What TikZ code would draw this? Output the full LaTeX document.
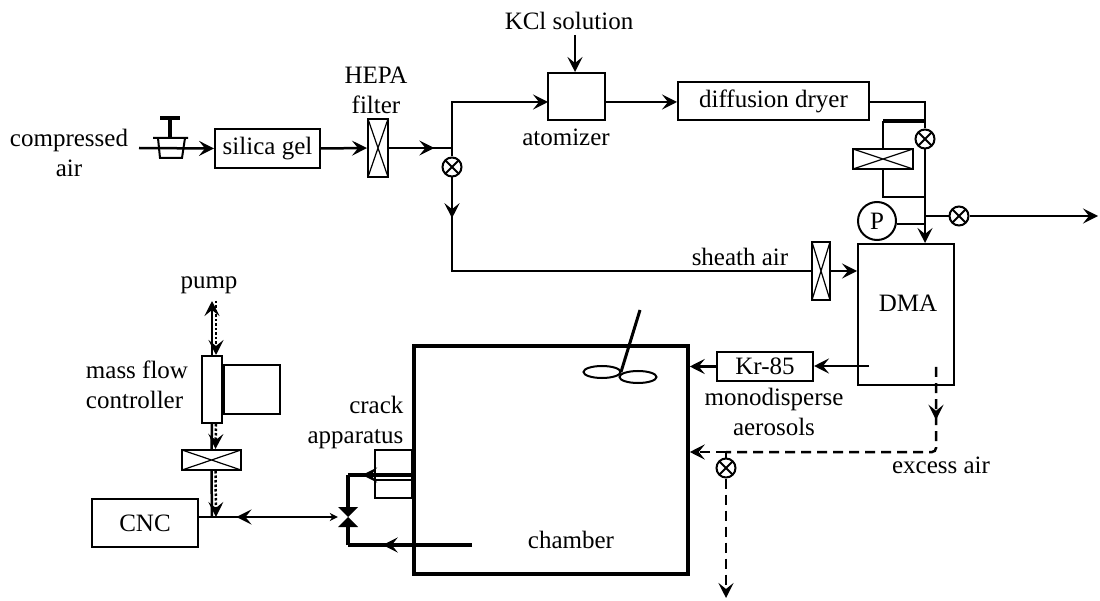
\documentclass[tikz,border=0pt]{standalone}
\usepackage{fontspec}
\setmainfont{Liberation Serif}
\usetikzlibrary{arrows.meta,decorations.markings,shapes.geometric}
\tikzset{%
  flowtip/.tip    = {Stealth[length=15pt,width=15pt,inset=6pt]},%
  caption/.style  = {font=\fontsize{25}{30}\selectfont, inner sep=0pt, align=center},%
  unit/.style     = {shape=rectangle, draw, line width=2pt, inner sep=0pt, caption},%
  crossed/.style  = {unit, path picture={
      \draw[line width=1.2pt] (path picture bounding box.north west) -- (path picture bounding box.south east)
        (path picture bounding box.south west) -- (path picture bounding box.north east);}},%
  shutoff/.style  = {circle, draw, line width=2pt, inner sep=0pt, minimum size=19pt, path picture={
      \draw[line width=2pt] (path picture bounding box.center) +(-7,-7) -- +(7,7) +(-7,7) -- +(7,-7);}},%
  bowtie/.style   = {inner sep=0pt, minimum size=20pt, path picture={
      \fill (path picture bounding box.north west) -- (path picture bounding box.north east)
        -- (path picture bounding box.south west) -- (path picture bounding box.south east) -- cycle;}},%
  flow/.style     = {line width=2.5pt, -flowtip},%
  pipe/.style     = {line width=2.5pt},%
  thinpipe/.style = {line width=2pt},%
  excess/.style   = {line width=2.5pt, dash pattern=on 10pt off 6pt},%
  trace/.style    = {line width=2.5pt, dash pattern=on 2.5pt off 2pt, -flowtip},%
  midarrow/.style = {postaction={decorate, decoration={markings, mark=at position #1 with {\arrow{flowtip}}}}}%
}
\begin{document}
\begin{tikzpicture}[x=1pt, y=-1pt]
  \useasboundingbox (0,0) rectangle (1100,601);
  % upper line
  \node [caption] (compressed) at (69,153) {compressed\\air};
  \node [unit, minimum width=105pt, minimum height=39pt] (silica) at (267.5,148.5) {silica gel};
  \node [crossed, minimum width=20pt, minimum height=58pt] (hepa) at (378,148) {};
  \node [caption] (hepatext) at (376,90) {HEPA\\filter};
  \node [shutoff] (tee) at (452,167) {};
  \node [unit, minimum width=57pt, minimum height=47pt] (atomizer) at (576.5,96.5) {};
  \node [caption] (atomizertext) at (566,137) {atomizer};
  \node [caption] (kcl) at (569,21) {KCl solution};
  \node [unit, minimum width=191pt, minimum height=38pt] (dryer) at (773.5,101) {diffusion dryer};
  \node [shutoff] (bypass) at (925,139) {};
  \node [crossed, minimum width=60pt, minimum height=20pt] (dryfilter) at (883,159) {};
  \node [circle, draw, line width=2pt, inner sep=0pt, minimum size=38pt, caption] (gauge) at (877,221) {P};
  \node [shutoff] (vent) at (959,216) {};
  \node [crossed, minimum width=18pt, minimum height=58pt] (sheathfilter) at (821,271) {};
  \node [caption] (sheathtext) at (740,257) {sheath air};
  \node [unit, minimum width=96pt, minimum height=141pt] (dma) at (906,314.5) {};
  \node [caption] (dmatext) at (908,303) {DMA};
  \coordinate (inlet) at (139,148);
  \coordinate (joint) at (452,148);
  \coordinate (regulator) at (170,148);
  \coordinate (atomin) at (548,102);
  \coordinate (atomout) at (605,102);
  \coordinate (branchtop) at (925,121);
  \coordinate (branchlow) at (925,197);
  \coordinate (outlet) at (1098,216);
  \coordinate (kclin) at (575,35);

  \draw [flow] (inlet) -- (silica.west);
  \draw [flow] (silica.east) -- (hepa.west);
  \draw [pipe, midarrow=.72] (hepa.east) -- (joint);
  \draw [pipe] (joint) -- (tee.north);
  \draw [flow] (joint) |- (atomin);
  \draw [flow] (atomout) -- (atomout -| dryer.west);
  \draw [flow] (kclin) -- (kclin |- atomizer.north);
  \draw [pipe] (dryer.east |- atomout) -| (bypass.north);
  \draw [line width=3.5pt] (dryfilter.north |- branchtop) -- (branchtop);
  \draw [pipe] (dryfilter.north) -- (dryfilter.north |- branchtop);
  \draw [pipe] (dryfilter.south) |- (branchlow);
  \draw [flow] (bypass.south) -- (bypass.south |- dma.north);
  \draw [thinpipe] (gauge.east |- 0,224) -- (925,224);
  \draw [pipe] (925,216) -- (vent.west);
  \draw [flow] (vent.east) -- (outlet);
  \draw [pipe, midarrow=.09] (tee.south) |- (sheathfilter.west);
  \draw [flow] (sheathfilter.east) -- (dma.west |- sheathfilter.east);

  % pressure regulator
  \draw [line width=4pt] (regulator) +(-10,-30) -- +(10,-30);
  \draw [line width=4pt] (regulator) +(0,-30) -- +(0,-10);
  \draw [thinpipe] (regulator) +(-17,-10) -- +(18,-10) +(-12,-10) -- +(-10,10) -- +(12,10) -- +(15,-10);

  % chamber
  \node [unit, line width=3.5pt, minimum width=274pt, minimum height=228pt] (chamber) at (551,460) {};
  \node [caption] (chambertext) at (571,540) {chamber};
  \node [unit, minimum width=96pt, minimum height=29pt] (krypton) at (765,366.5) {Kr-85};
  \node [caption] (monotext) at (774,412) {monodisperse\\aerosols};
  \node [draw, ellipse, line width=2pt, minimum width=37pt, minimum height=12pt, inner sep=0pt] (bladeleft) at (602,372) {};
  \node [draw, ellipse, line width=2pt, minimum width=37pt, minimum height=12pt, inner sep=0pt] (bladeright) at (638,377) {};
  \coordinate (shaft) at (640,310);
  \coordinate (hub) at (621,372);
  \coordinate (dmaout) at (869,366);
  \coordinate (dmaexcess) at (936,367);
  \coordinate (excesscorner) at (936,452);
  \coordinate (excessjoint) at (726,452);
  \coordinate (drain) at (726,598);
  \node [shutoff] (drainvalve) at (726,468) {};
  \node [caption] (excesstext) at (941,465) {excess air};

  \draw [line width=3pt] (shaft) -- (hub);
  \draw [flow] (dmaout) -- (krypton.east |- dmaout);
  \draw [flow] (krypton.west) -- (chamber.east |- krypton.west);
  \draw [excess, midarrow=.18, rounded corners=4pt] (dmaexcess) -- (excesscorner) -- (excessjoint);
  \draw [excess, -flowtip] (excessjoint) -- (chamber.east |- excessjoint);
  \draw [thinpipe] (excessjoint) -- (drainvalve.north);
  \draw [excess, -flowtip] (drainvalve.south) -- (drain);

  % crack apparatus and sampling
  \node [unit, minimum width=37pt, minimum height=48pt] (crack) at (393.5,474) {};
  \node [caption, align=right] (cracktext) at (355.5,422) {crack\\apparatus};
  \node [bowtie] (sampler) at (348,517) {};
  \node [unit, minimum width=106pt, minimum height=48pt] (cnc) at (145,523) {CNC};
  \coordinate (crackport) at (412,475);
  \coordinate (crackbend) at (348,475);
  \coordinate (chamberbend) at (348,545);
  \coordinate (probe) at (472,545);

  \draw [line width=3.5pt, midarrow=.78] (crackport) -- (crackbend);
  \draw [line width=3.5pt] (crackbend) -- (sampler.north);
  \draw [thinpipe] (crack.west |- 0,480) -- (412,480);
  \draw [line width=3.5pt, midarrow=.72] (probe) -- (chamberbend);
  \draw [line width=3.5pt] (chamberbend) -- (sampler.south);
  \draw [thinpipe, midarrow=.73, {Stealth[length=8pt,width=8pt]}-] (sampler.west) -- (cnc.east |- sampler.west);

  % mass flow controller
  \node [unit, minimum width=20pt, minimum height=67pt] (mfc) at (212,389.5) {};
  \node [unit, anchor=west, minimum width=56pt, minimum height=48pt] (mfcbox) at (mfc.east) {};
  \node [crossed, minimum width=59pt, minimum height=20pt] (mfcfilter) at (211.5,460) {};
  \node [caption, align=left] (mfctext) at (137,385) {mass flow\\controller};
  \node [caption] (pumptext) at (209,285) {pump};
  \coordinate (pumpup) at (212,301);
  \coordinate (cncjoint) at (212,517);

  \draw [flow] (mfc.north) -- (pumpup);
  \draw [pipe] (mfc.south) -- (mfcfilter.north);
  \draw [pipe] (mfcfilter.south) -- (cncjoint);
  \draw [trace] ([xshift=4pt]pumpup) -- ([xshift=4pt]mfc.north);
  \draw [trace] ([xshift=4pt]mfc.south) -- ([xshift=4pt]mfcfilter.north);
  \draw [trace] ([xshift=4pt]mfcfilter.south) -- ([xshift=4pt]cncjoint);
\end{tikzpicture}
\end{document}
